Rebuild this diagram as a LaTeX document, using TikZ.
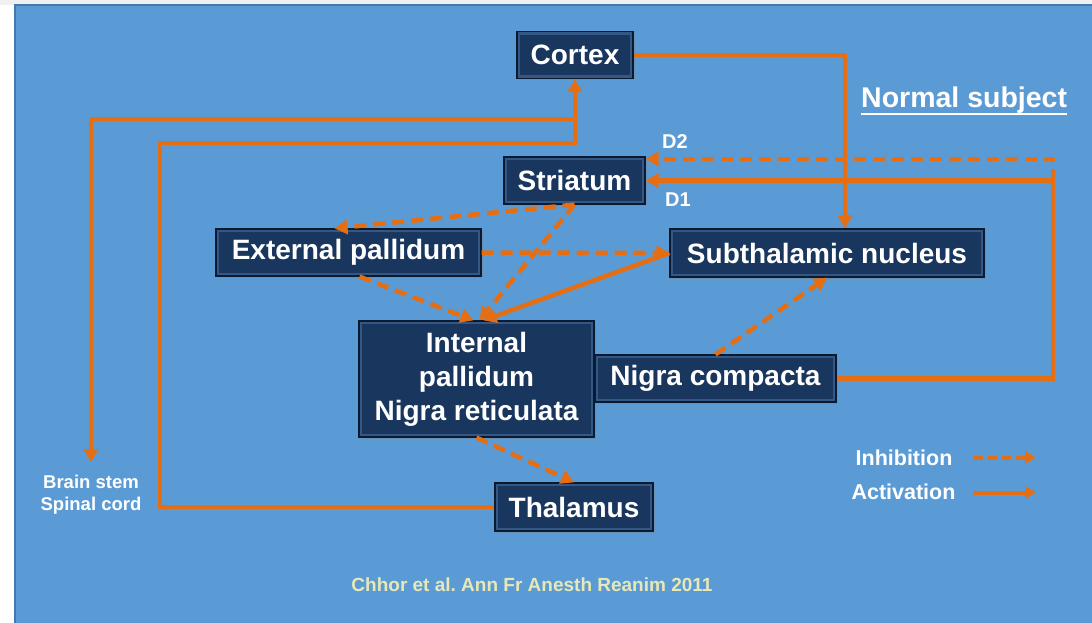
\documentclass[tikz,border=0pt]{standalone}
\usepackage{fontspec}
\setmainfont{Liberation Sans}
\usetikzlibrary{arrows.meta,shadows,positioning}
\frenchspacing

\definecolor{slideblue}{RGB}{91,155,213}
\definecolor{slideedge}{RGB}{68,120,176}
\definecolor{topgray}{RGB}{240,240,240}
\definecolor{navy}{RGB}{24,54,94}
\definecolor{navyedge}{RGB}{10,26,48}
\definecolor{navybevel}{RGB}{52,88,134}
\definecolor{pathorange}{RGB}{230,110,18}
\definecolor{citecolor}{RGB}{232,232,182}

\begin{document}
\begin{tikzpicture}[x=1pt,y=-1pt,
  >={Triangle[length=13pt,width=14pt]},
  nucleus/.style={draw=navyedge, line width=1.2pt, fill=navy, text=white,
    inner sep=0pt, align=center, font=\fontsize{28}{34}\selectfont\bfseries,
    drop shadow={opacity=0.35, shadow xshift=2pt, shadow yshift=-2pt},
    path picture={\draw[navybevel, line width=2.5pt]
      ([shift={(2pt,2pt)}]path picture bounding box.south west) rectangle
      ([shift={(-2pt,-2pt)}]path picture bounding box.north east);}},
  act/.style={draw=pathorange, line width=4.5pt, ->},
  inh/.style={act, dash pattern=on 12pt off 7pt},
  tag/.style={text=white, inner sep=0pt, align=center, font=\bfseries},
]
\useasboundingbox (0,0) rectangle (1092,623);
% slide
\fill[white] (0,0) rectangle (1092,623);
\fill[topgray] (0,0) rectangle (1092,5);
\fill[slideblue] (15,5) rectangle (1092,623);
\draw[slideedge, line width=1.5pt] (15,623) -- (15,5) -- (1092,5);

% boxes
\node[nucleus, minimum width=116, minimum height=47] (cortex) at (575,55) {Cortex};
\node[nucleus, minimum width=141, minimum height=47] (striatum) at (574.5,180.5) {Striatum};
\node[nucleus, minimum width=265, minimum height=47] (extpal) at (348.5,252.5) {External pallidum};
\node[nucleus, minimum width=314, minimum height=48] (stn) at (827,253) {Subthalamic nucleus};
\node[nucleus, minimum width=235, minimum height=116] (intpal) at (476.5,379) {Internal\\pallidum\\Nigra reticulata};
\node[nucleus, minimum width=241, minimum height=47] (snc) at (715.5,378.5) {Nigra compacta};
\node[nucleus, minimum width=158, minimum height=48] (thal) at (574,507) {Thalamus};

% texts
\node[tag, font=\fontsize{18.5}{22}\selectfont\bfseries] (brainstem) at (91,495) {Brain stem\\Spinal cord};
\node[tag, font=\fontsize{20}{24}\selectfont\bfseries] (dtwo) at (675,142) {D2};
\node[tag, font=\fontsize{20}{24}\selectfont\bfseries] (done) at (678,200) {D1};
\node[tag, font=\fontsize{28.5}{30}\selectfont\bfseries, anchor=base west] (normal) at (861,108) {Normal subject};
\draw[white, line width=2.5pt] ([yshift=-6pt]normal.base west) -- ([yshift=-6pt]normal.base east);
\node[tag, text=citecolor, font=\fontsize{19}{22}\selectfont\bfseries] (cite) at (532,585) {Chhor et al. Ann Fr Anesth Reanim 2011};

% legend
\node[tag, font=\fontsize{21.5}{24}\selectfont\bfseries] (inhlabel) at (904,458) {Inhibition};
\node[tag, font=\fontsize{21.5}{24}\selectfont\bfseries] (actlabel) at (903.5,491.5) {Activation};
\coordinate (inhend) at (1036,457.5);
\coordinate (actend) at (1036,492.5);
\draw[act, line width=4pt, dash pattern=on 9pt off 5pt, >={Triangle[length=11pt,width=12pt]}]
  (inhend -| 974,0) -- (inhend);
\draw[act, line width=4pt, >={Triangle[length=11pt,width=12pt]}]
  (actend -| 974,0) -- (actend);

% cortex loop
\coordinate (thalturn) at (160,143);
\draw[act] (thal.west) -| (thalturn) -| (cortex.south);
\draw[act, shorten >=13pt] ([yshift=-40pt]cortex.south) -| (brainstem.north);
\draw[act] (cortex.east) -| ([xshift=18pt]stn.north);

% dopamine
\coordinate (dloop) at (1053,180.5);
\coordinate (dtop) at (1053,159);
\draw[act] (snc.east) -| (dloop) -- (striatum.east);
\draw[inh] (dloop) -- (dtop) -- (dtop -| striatum.east);

% striatum outputs
\draw[inh] (striatum.south) -- ([xshift=-14pt]extpal.north);
\draw[inh] (striatum.south) -- ([xshift=3pt]intpal.north);
\draw[inh] (extpal.east) -- (stn.west);
\draw[inh] ([xshift=11pt]extpal.south) -- ([xshift=-3pt]intpal.north);
\draw[act] (stn.west) -- ([xshift=7pt]intpal.north);
\draw[inh] (snc.north) -- (stn.south);
\draw[inh] (intpal.south) -- (thal.north);
\end{tikzpicture}
\end{document}
